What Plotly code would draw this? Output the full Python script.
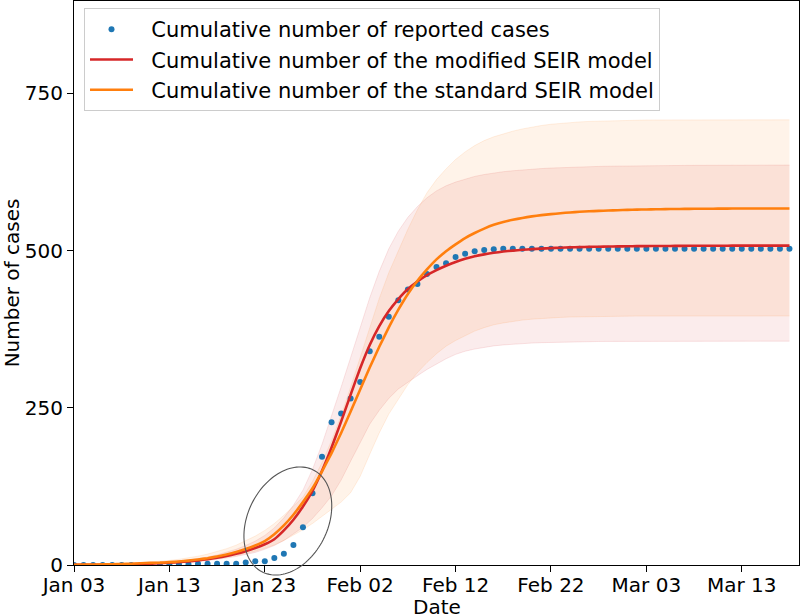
import numpy as np
import pandas as pd
import plotly.graph_objects as go

# ---------------- data (daily, Jan 03 2020 .. Mar 18 2020) ----------------
start_date = "2020-01-03"
n_days = 76
dates = pd.date_range(start_date, periods=n_days, freq="D")

reported = [0, 0, 0, 0, 0, 0, 0, 0, 0, 0, 1, 1, 1, 2, 2, 2, 2, 2, 4, 6,
            6, 11, 18, 32, 60, 114, 172, 227, 241, 265, 291, 340, 363, 395, 421, 438,
            447, 463, 474, 480, 490, 495, 499, 501, 502, 503, 503, 503, 503, 503,
            503, 503, 503, 503, 503, 503, 503, 503, 503, 503, 503, 503, 503, 503,
            503, 503, 503, 503, 503, 503, 503, 503, 503, 503, 503, 503]

modified = [0.2, 0.3, 0.4, 0.5, 0.7, 0.9, 1.2, 1.6, 2.1, 2.7, 3.5, 4.5, 5.8, 7.3,
            9.2, 11.5, 14.3, 17.8, 22, 27, 33, 41, 55, 72, 93, 118, 150, 187, 228,
            271, 313, 350, 380, 404, 423, 439, 451, 461, 469, 476, 482, 487, 491,
            494, 496.5, 498.5, 500, 501.3, 502.3, 503.2, 504, 504.6, 505.1, 505.5,
            505.9, 506.2, 506.5, 506.7, 506.9, 507.1, 507.2, 507.3, 507.4, 507.5,
            507.6, 507.7, 507.7, 507.8, 507.8, 507.9, 507.9, 507.9, 508, 508, 508, 508]

standard = [0.5, 0.6, 0.8, 1.0, 1.3, 1.7, 2.1, 2.7, 3.4, 3.7, 4.5, 5.6, 7.0, 8.7,
            10.8, 13.4, 16.6, 20.5, 25.3, 31, 38, 49, 63, 80, 100, 122, 149, 178,
            210, 244, 279, 314, 347, 378, 406, 431, 452, 470, 486, 499, 510, 520,
            528, 535, 541, 545.5, 549, 552, 554.5, 556.5, 558, 559.5, 560.7, 561.7,
            562.5, 563.2, 563.8, 564.3, 564.8, 565.2, 565.5, 565.8, 566, 566.2,
            566.4, 566.5, 566.6, 566.7, 566.8, 566.9, 566.9, 567, 567, 567, 567, 567]

modified_low = [0.15, 0.2, 0.3, 0.4, 0.5, 0.7, 0.9, 1.2, 1.6, 2.0, 2.6, 3.4, 4.4,
                5.5, 7.0, 8.8, 11, 13.6, 16.8, 20, 25, 31, 39, 49, 60, 74, 91, 110,
                135, 165, 195, 224, 246, 265, 280, 291, 301, 311, 320, 328, 335, 340,
                343.5, 346.5, 348.5, 350, 351.3, 352.3, 353, 353.6, 354.1, 354.5,
                354.8, 355.1, 355.3, 355.5, 355.6, 355.7, 355.8, 355.8, 355.9, 355.9,
                356, 356, 356, 356, 356, 356, 356, 356, 356, 356, 356, 356, 356, 356]

modified_high = [0.3, 0.4, 0.5, 0.7, 0.9, 1.2, 1.6, 2.1, 2.8, 3.6, 4.7, 6.0, 7.8,
                 10, 12.7, 16, 20, 25, 31, 38, 47, 59, 75, 95, 119, 152, 192, 236,
                 283, 330, 378, 425, 467, 503, 531, 553, 570, 584, 595, 603, 609,
                 614, 618, 621, 623.5, 625.5, 627, 628.5, 629.5, 630.5, 631.3, 632,
                 632.6, 633.1, 633.5, 633.9, 634.2, 634.5, 634.7, 634.9, 635.1,
                 635.2, 635.3, 635.4, 635.5, 635.6, 635.7, 635.7, 635.8, 635.8,
                 635.9, 635.9, 636, 636, 636, 636]

standard_low = [0.3, 0.4, 0.5, 0.7, 0.9, 1.1, 1.4, 1.8, 2.3, 2.9, 3.6, 4.5, 5.5,
                6.8, 8.3, 10.1, 12.3, 15, 18.2, 22, 26.5, 32, 39, 47, 56, 66, 77,
                88, 100, 115, 141, 176, 210, 240, 264, 287, 306, 322, 336, 348, 357,
                365, 372, 377.5, 382, 385, 387.5, 389.5, 391, 392.2, 393.1, 393.8,
                394.4, 394.8, 395.1, 395.4, 395.6, 395.7, 395.8, 395.9, 395.9, 396,
                396, 396, 396, 396, 396, 396, 396, 396, 396, 396, 396, 396, 396, 396]

standard_high = [0.6, 0.8, 1.0, 1.3, 1.7, 2.2, 2.8, 3.6, 4.6, 5.8, 7.3, 9.1, 11.3,
                 14, 17.3, 21.2, 26, 31.6, 38.3, 46, 55, 66, 79, 93, 108, 133, 163,
                 198, 238, 283, 330, 378, 424, 465, 500, 534, 565, 592, 613, 630,
                 645, 657, 667, 675, 681, 686, 690, 693.5, 696.5, 699, 701, 702.5,
                 703.7, 704.7, 705.5, 706, 706.5, 706.9, 707.2, 707.5, 707.7, 707.8,
                 707.9, 708, 708, 708, 708, 708, 708, 708, 708, 708, 708, 708, 708, 708]

tick_dates = ["2020-01-03", "2020-01-13", "2020-01-23", "2020-02-02",
              "2020-02-12", "2020-02-22", "2020-03-03", "2020-03-13"]
y_ticks = [0, 250, 500, 750]

legend_names = ["Cumulative number of reported cases",
                "Cumulative number of the modified SEIR model",
                "Cumulative number of the standard SEIR model"]
x_title = "Date"
y_title = "Number of cases"

# ---------------- styling ----------------
FONT = "DejaVu Sans"
x_range = [pd.Timestamp("2020-01-03"), pd.Timestamp("2020-03-19")]
y_range = [0, 897]
LEGEND_PAD = "\u00a0\u00a0"  # visual gap between legend sample and label

fig = go.Figure()

# uncertainty bands
def band(lo, hi, rgb, alpha):
    fig.add_trace(go.Scatter(x=dates, y=lo, mode="lines",
                             line=dict(color=f"rgba({rgb},{alpha*1.6})", width=0.8),
                             showlegend=False, hoverinfo="skip"))
    fig.add_trace(go.Scatter(x=dates, y=hi, mode="lines", fill="tonexty",
                             fillcolor=f"rgba({rgb},{alpha})",
                             line=dict(color=f"rgba({rgb},{alpha*1.6})", width=0.8),
                             showlegend=False, hoverinfo="skip"))

band(modified_low, modified_high, "214,39,40", 0.09)
band(standard_low, standard_high, "255,127,14", 0.09)

fig.add_trace(go.Scatter(x=dates, y=reported, mode="markers", name=LEGEND_PAD + legend_names[0],
                         marker=dict(color="#1f77b4", size=6),
                         legendgroup="a"))
fig.add_trace(go.Scatter(x=dates, y=modified, mode="lines", name=LEGEND_PAD + legend_names[1],
                         line=dict(color="#d62728", width=2.6, shape="spline", smoothing=0.4),
                         legendgroup="b"))
fig.add_trace(go.Scatter(x=dates, y=standard, mode="lines", name=LEGEND_PAD + legend_names[2],
                         line=dict(color="#ff7f0e", width=2.6, shape="spline", smoothing=0.4),
                         legendgroup="c"))

# highlight ellipse (annotation), defined around a data point, drawn in paper space
W, H = 800, 616
ml, mr, mt, mb = 74, 1, 1, 51
pw, ph = W - ml - mr, H - mt - mb
ell_center_date = pd.Timestamp("2020-01-25 10:00")
ell_center_val = 70
span_days = (x_range[1] - x_range[0]) / pd.Timedelta(days=1)
cx = ((ell_center_date - x_range[0]) / pd.Timedelta(days=1)) / span_days
cy = ell_center_val / y_range[1]
a_px, b_px, phi = 57.0, 40.0, np.deg2rad(63.5)
t = np.linspace(0, 2 * np.pi, 120)
ex = cx + (a_px * np.cos(t) * np.cos(phi) - b_px * np.sin(t) * np.sin(phi)) / pw
ey = cy + (a_px * np.cos(t) * np.sin(phi) + b_px * np.sin(t) * np.cos(phi)) / ph
path = "M " + " L ".join(f"{x:.5f},{y:.5f}" for x, y in zip(ex, ey)) + " Z"
fig.add_shape(type="path", path=path, xref="paper", yref="paper",
              line=dict(color="#555555", width=1.1))

axis_common = dict(showline=True, linecolor="black", linewidth=1, mirror=True,
                   ticks="outside", ticklen=6, tickwidth=1, tickcolor="black",
                   showgrid=False, zeroline=False,
                   tickfont=dict(family=FONT, size=20, color="black"))

fig.update_xaxes(range=x_range, tickvals=tick_dates, tickformat="%b %d",
                 ticklabelstandoff=-4, **axis_common)
fig.update_yaxes(range=y_range, tickvals=y_ticks,
                 title=dict(text=y_title, font=dict(family=FONT, size=20, color="black"),
                            standoff=4),
                 **axis_common)

# x-axis title placed as an annotation so it can sit near the bottom edge
fig.add_annotation(text=x_title, xref="paper", yref="paper", x=0.5, y=-0.0738,
                   xanchor="center", yanchor="middle", showarrow=False,
                   font=dict(family=FONT, size=20, color="black"))

fig.update_layout(
    width=W, height=H,
    margin=dict(l=ml, r=mr, t=mt, b=mb, autoexpand=False),
    plot_bgcolor="white", paper_bgcolor="white",
    font=dict(family=FONT, color="black"),
    legend=dict(x=0.0138, y=0.9876, xanchor="left", yanchor="top",
                bgcolor="rgba(255,255,255,0.85)", bordercolor="#cccccc", borderwidth=1,
                font=dict(family=FONT, size=21, color="black"),
                tracegroupgap=0, itemwidth=43),
)

fig.write_html("out.html", config={"displayModeBar": False},
               post_script="document.body.style.margin='0';document.body.style.overflow='hidden';")
